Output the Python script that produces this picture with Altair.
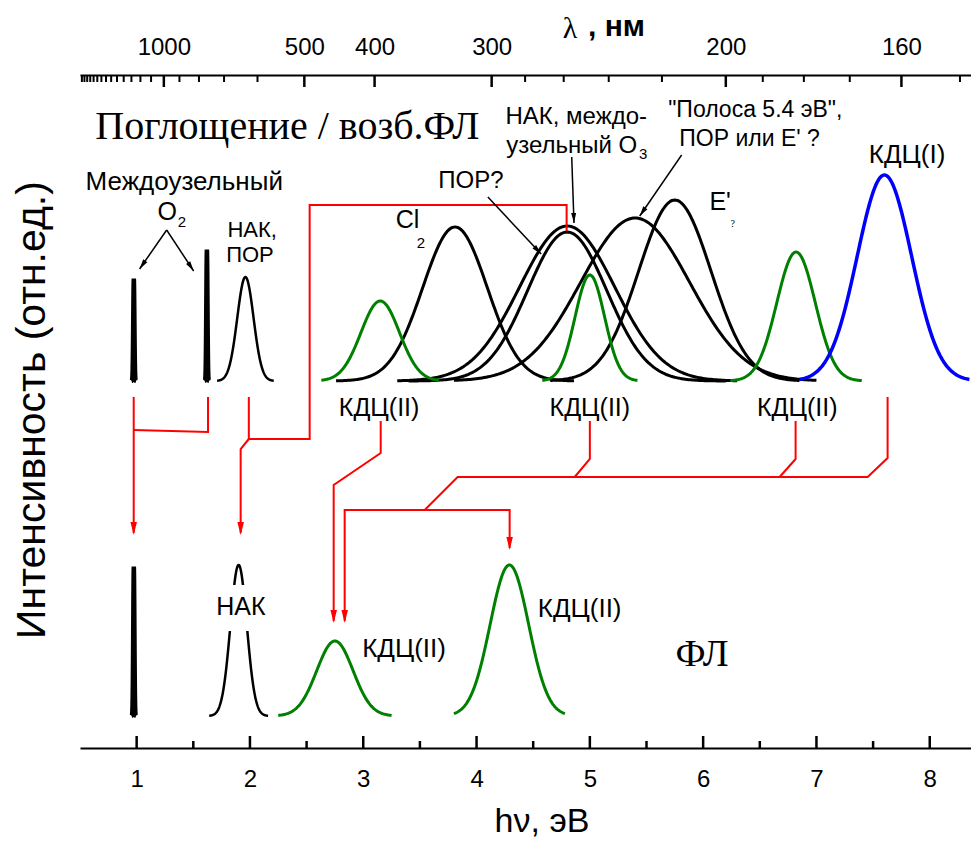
import math
import altair as alt
import numpy as np
import pandas as pd

# ---------------- geometry of the plot area ----------------
W, H = 891, 673
PX_PER_EV = 113.3
X_DOMAIN = [0.5, round(0.5 + W / PX_PER_EV, 4)]
Y_DOMAIN = [0, H]
SANS = "Liberation Sans, Arial, Helvetica, sans-serif"
SERIF = "Liberation Serif, Times New Roman, serif"
GREEN = "#008000"
BLUE = "#0000ff"
RED = "#ff0000"

# ---------------- axes ----------------
ev_major = [1, 2, 3, 4, 5, 6, 7, 8]
ev_minor = [1.5, 2.5, 3.5, 4.5, 5.5, 6.5, 7.5]
lam_major = [1000, 500, 400, 300, 200, 160]
lam_minor = [2400, 2300, 2200, 2100, 2000, 1900, 1800, 1700, 1600, 1500, 1400,
             1300, 1200, 1100, 900, 800, 700, 600, 280, 260, 240, 220, 190, 180, 170, 150]

# ---------------- bands (eV, arbitrary intensity) ----------------
upper_base = 367
lower_base = 32
band_id = ["o2_a1", "o2_a2", "nak_a", "cl2", "por", "nak_o3", "b54", "eprime",
           "odc2_a1", "odc2_a2", "odc2_a3", "odc1",
           "o2_fl", "nak_fl", "odc2_fl1", "odc2_fl2"]
band_center = [0.975, 1.62, 1.96, 3.81, 4.80, 4.80, 5.40, 5.75,
               3.15, 5.00, 6.82, 7.60,
               0.975, 1.90, 2.75, 4.29]
band_height = [102, 131, 104, 154, 149, 155, 163, 181,
               80, 106, 129, 206,
               149, 151, 75, 151]
band_sigma = [0.005, 0.005, 0.072, 0.285, 0.35, 0.42, 0.48, 0.32,
              0.17, 0.13, 0.17, 0.24,
              0.005, 0.072, 0.16, 0.17]
band_half = [0.02, 0.02, 0.25, 1.05, 1.4, 1.5, 1.6, 1.1,
             0.52, 0.42, 0.58, 0.75,
             0.02, 0.26, 0.5, 0.49]
band_level = ["up"] * 12 + ["low"] * 4
band_group = ["black"] * 8 + ["green"] * 3 + ["blue"] + ["black", "black", "green", "green"]
band_width = [4.5, 4.5, 2.5, 3, 3, 3, 3, 3, 3, 3, 3, 3.5, 4.5, 2.5, 3, 3]

# ---------------- red connection scheme ----------------
red_path = ["A", "A",
            "B", "B", "B",
            "C1", "C1", "C1", "C1", "C1", "C1",
            "C2", "C2", "C2",
            "D", "D", "D", "D",
            "E1", "E1", "E1",
            "E2", "E2", "E2",
            "E3", "E3", "E3", "E3", "E3",
            "F", "F", "F", "F"]
red_x = [0.974, 0.974,
         1.63, 1.63, 0.974,
         1.99, 1.99, 2.527, 2.527, 4.795, 4.795,
         1.99, 1.918, 1.918,
         3.154, 3.154, 2.739, 2.739,
         5.0, 5.0, 4.866,
         6.816, 6.816, 6.675,
         7.628, 7.628, 7.452, 3.833, 3.542,
         2.836, 2.836, 4.292, 4.292]
red_y = [351, 215,
         351, 316, 318,
         351, 309, 309, 543, 543, 517,
         309, 299, 215,
         327, 295, 263, 127,
         327, 289, 271,
         327, 289, 271,
         351, 290, 271, 271, 238,
         127, 238, 238, 200]
red_tip_x = [0.974, 1.918, 2.739, 2.836, 4.292]
red_tip_y = [213, 213, 125, 125, 198]

# ---------------- black pointer arrows ----------------
arr_x0 = [1.265, 1.265, 4.10, 4.84, 5.81]
arr_y0 = [518, 518, 551, 591, 593]
arr_x1 = [1.026, 1.503, 4.57, 4.86, 5.44]
arr_y1 = [479, 477, 494, 525, 532]

# ---------------- labels ----------------
sans_text = ["Междоузельный", "O", "НАК,", "ПОР", "Cl", "ПОР?", "НАК, междо-",
             "узельный O", "\"Полоса 5.4 эВ\",", "ПОР или E'  ?", "E'", "КДЦ(I)",
             "КДЦ(II)", "КДЦ(II)", "КДЦ(II)", "НАК", "КДЦ(II)", "КДЦ(II)"]
sans_x = [1.42, 1.27, 2.02, 2.00, 3.39, 3.95, 4.88, 4.84, 6.46, 6.41, 6.15, 7.80,
          3.14, 5.00, 6.83, 1.92, 3.36, 4.91]
sans_y = [566, 536, 518, 493, 528, 567, 631, 602, 638, 609, 546, 593,
          340, 340, 340, 141, 99, 139]
sans_size = [26, 25, 22, 22, 25, 24, 24, 24, 23, 23, 25, 26,
             25, 25, 25, 25, 26, 26]
sub_text = ["2", "2", "3"]
sub_x = [1.40, 3.51, 5.47]
sub_y = [526, 505, 594]
serif_text = ["Поглощение / возб.ФЛ", "ФЛ", "?"]
serif_x = [2.33, 5.99, 6.26]
serif_y = [621, 93, 524]
serif_size = [40, 38, 10]
label_bg_x = [1.72]
label_bg_x2 = [2.10]
label_bg_y = [117]
label_bg_y2 = [163]

# ================= build tables =================
rows = []
for i, b in enumerate(band_id):
    c, h, s, hw = band_center[i], band_height[i], band_sigma[i], band_half[i]
    base = upper_base if band_level[i] == "up" else lower_base
    xs = np.linspace(c - hw, c + hw, 181)
    ys = base + h * np.exp(-0.5 * ((xs - c) / s) ** 2)
    for k, (xx, yy) in enumerate(zip(xs, ys)):
        rows.append({"x": float(xx), "y": float(yy), "id": b, "grp": band_group[i],
                     "w": band_width[i], "k": k})
bands = pd.DataFrame(rows)

red_df = pd.DataFrame({"p": red_path, "x": red_x, "y": red_y, "k": list(range(len(red_x)))})
red_tip_df = pd.DataFrame({"x": red_tip_x, "y": [v + 6.5 for v in red_tip_y]})

arr_rows, head_rows = [], []
for i in range(len(arr_x0)):
    arr_rows.append({"a": i, "x": arr_x0[i], "y": arr_y0[i], "k": 0})
    arr_rows.append({"a": i, "x": arr_x1[i], "y": arr_y1[i], "k": 1})
    dx = (arr_x1[i] - arr_x0[i]) * PX_PER_EV
    dy = -(arr_y1[i] - arr_y0[i])
    n = math.hypot(dx, dy)
    ang = math.degrees(math.atan2(-dx, dy)) % 360
    head_rows.append({"x": arr_x1[i] - 5 * dx / n / PX_PER_EV,
                      "y": arr_y1[i] + 5 * dy / n, "ang": ang})
arr_df = pd.DataFrame(arr_rows)
head_df = pd.DataFrame(head_rows)

sans_df = pd.DataFrame({"x": sans_x, "y": sans_y, "t": sans_text, "s": sans_size})
sub_df = pd.DataFrame({"x": sub_x, "y": sub_y, "t": sub_text})
serif_df = pd.DataFrame({"x": serif_x, "y": serif_y, "t": serif_text, "s": serif_size})
bg_df = pd.DataFrame({"x": label_bg_x, "x2": label_bg_x2, "y": label_bg_y, "y2": label_bg_y2})

XS = alt.Scale(domain=X_DOMAIN, nice=False, zero=False)
YS = alt.Scale(domain=Y_DOMAIN, nice=False, zero=False)
HEAD = "M-0.5,-1L0.5,-1L0,1Z"


def X(axis=None):
    return alt.X("x:Q", scale=XS, axis=axis)


def Y():
    return alt.Y("y:Q", scale=YS, axis=None)


bottom_axis = alt.Axis(values=ev_major, format="d", title=None, grid=False, ticks=False,
                       tickSize=0, labelFontSize=24, labelFont=SANS, labelColor="black",
                       labelPadding=19, domainColor="black", domainWidth=2)
left_axis = alt.Axis(labels=False, ticks=False, title=None, grid=False,
                     domainColor="black", domainWidth=2)
top_axis = alt.Axis(orient="top", values=[1240 / l for l in lam_major],
                    labelExpr="round(1240 / datum.value)", title=None, grid=False,
                    ticks=False, tickSize=0, labelFontSize=24, labelFont=SANS,
                    labelColor="black", labelPadding=16, labelFlush=False,
                    domainColor="black", domainWidth=2)

black_bands = alt.Chart(bands[bands.grp == "black"]).mark_line(color="black").encode(
    x=X(bottom_axis), y=alt.Y("y:Q", scale=YS, axis=left_axis),
    detail="id:N", order="k:Q", strokeWidth=alt.StrokeWidth("w:Q", scale=None))
green_bands = alt.Chart(bands[bands.grp == "green"]).mark_line(color=GREEN).encode(
    x=X(), y=Y(), detail="id:N", order="k:Q",
    strokeWidth=alt.StrokeWidth("w:Q", scale=None))
blue_bands = alt.Chart(bands[bands.grp == "blue"]).mark_line(color=BLUE).encode(
    x=X(), y=Y(), detail="id:N", order="k:Q",
    strokeWidth=alt.StrokeWidth("w:Q", scale=None))

red_lines = alt.Chart(red_df).mark_line(color=RED, strokeWidth=2).encode(
    x=X(), y=Y(), detail="p:N", order="k:Q")
red_heads = alt.Chart(red_tip_df).mark_point(shape=HEAD, filled=True, color=RED,
                                             size=169, opacity=1).encode(x=X(), y=Y())
blk_lines = alt.Chart(arr_df).mark_line(color="black", strokeWidth=1.5).encode(
    x=X(), y=Y(), detail="a:N", order="k:Q")
blk_heads = alt.Chart(head_df).mark_point(shape=HEAD, filled=True, color="black",
                                          size=100, opacity=1).encode(
    x=X(), y=Y(), angle=alt.Angle("ang:Q", scale=None))

bg = alt.Chart(bg_df).mark_rect(color="white").encode(
    x=X(), x2="x2:Q", y=Y(), y2="y2:Q")

sans_lbl = alt.Chart(sans_df).mark_text(font=SANS, color="black", baseline="middle").encode(
    x=X(), y=Y(), text="t:N", size=alt.Size("s:Q", scale=None))
sub_lbl = alt.Chart(sub_df).mark_text(font=SANS, color="black", fontSize=15,
                                      baseline="middle").encode(x=X(), y=Y(), text="t:N")
serif_lbl = alt.Chart(serif_df).mark_text(font=SERIF, color="black", baseline="middle").encode(
    x=X(), y=Y(), text="t:N", size=alt.Size("s:Q", scale=None))

bot_major = alt.Chart(pd.DataFrame({"x": ev_major})).mark_rule(color="black", strokeWidth=2.5).encode(
    x=X(), y=alt.value(H), y2=alt.value(H - 12))
bot_minor = alt.Chart(pd.DataFrame({"x": ev_minor})).mark_rule(color="black", strokeWidth=2.5).encode(
    x=X(), y=alt.value(H), y2=alt.value(H - 7))
top_major = alt.Chart(pd.DataFrame({"x": [1240 / l for l in lam_major]})).mark_rule(
    color="black", strokeWidth=2.5).encode(x=X(top_axis), y=alt.value(0), y2=alt.value(12))
top_minor = alt.Chart(pd.DataFrame({"x": [1240 / l for l in lam_minor]})).mark_rule(
    color="black", strokeWidth=2).encode(x=X(), y=alt.value(0), y2=alt.value(7))

ytitle = alt.Chart(pd.DataFrame({"t": ["Интенсивность (отн.ед.)"]})).mark_text(
    font=SANS, fontSize=41, angle=270, color="black", baseline="middle").encode(
    text="t:N", x=alt.value(-47), y=alt.value(335))
xtitle = alt.Chart(pd.DataFrame({"t": ["hν, эВ"]})).mark_text(
    font=SANS, fontSize=34, color="black", baseline="middle").encode(
    text="t:N", x=alt.value(462), y=alt.value(747))
lam_title = alt.Chart(pd.DataFrame({"t": ["λ"]})).mark_text(
    font=SERIF, fontSize=30, color="black", baseline="middle").encode(
    text="t:N", x=alt.value(490), y=alt.value(-46))
nm_title = alt.Chart(pd.DataFrame({"t": [", нм"]})).mark_text(
    font=SANS, fontSize=30, fontWeight="bold", color="black", align="left",
    baseline="middle").encode(text="t:N", x=alt.value(508), y=alt.value(-48))

chart = alt.layer(
    black_bands, green_bands, blue_bands,
    red_lines, red_heads, blk_lines, blk_heads,
    bg, sans_lbl, sub_lbl, serif_lbl,
    bot_major, bot_minor, top_major, top_minor,
    ytitle, xtitle, lam_title, nm_title,
).resolve_axis(x="independent").properties(
    width=W, height=H,
    autosize=alt.AutoSizeParams(type="none"),
    padding={"left": 72, "top": 67, "right": 0, "bottom": 90},
    background="white",
).configure_view(stroke=None)

chart.save("out.html", embed_options={"renderer": "svg", "actions": False})
